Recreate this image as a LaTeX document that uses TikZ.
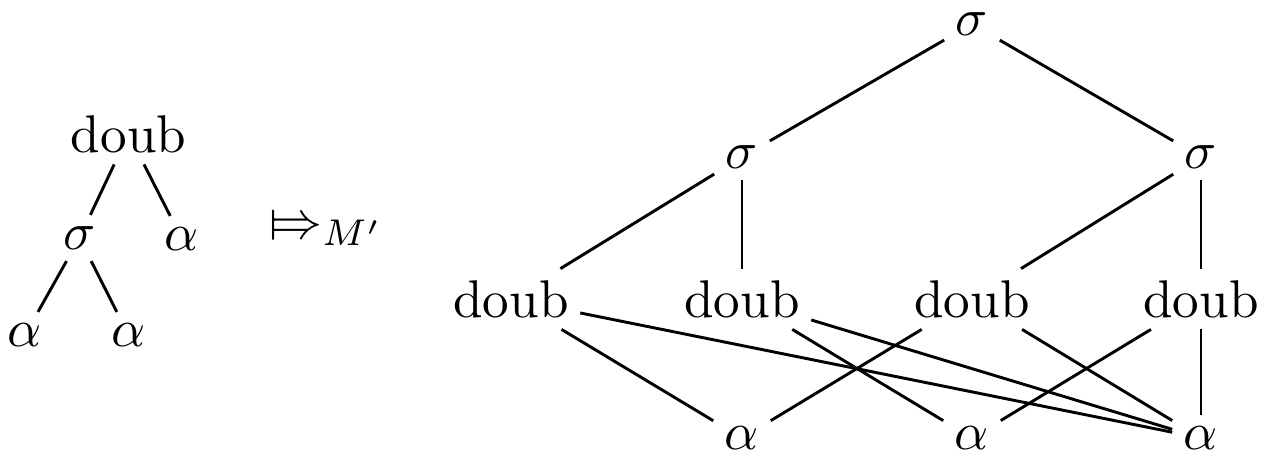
\documentclass[tikz,border=0pt]{standalone}
\usepackage{stmaryrd}
\tikzset{
  lbl/.style={inner sep=2.2pt, outer sep=0pt},
  conn/.style={line width=0.55pt}
}
\begin{document}
\begin{tikzpicture}[x=0.18831pt, y=-0.18831pt]
\useasboundingbox (0,0) rectangle (1266,456);
% left tree
\node[lbl] (ld) at (128.5,134) {doub};
\node[lbl] (ls) at (79.5,238) {$\sigma$};
\node[lbl] (la) at (182,239) {$\alpha$};
\node[lbl] (la1) at (25,335) {$\alpha$};
\node[lbl] (la2) at (128.5,335) {$\alpha$};
\draw[conn] (ld) -- (ls);
\draw[conn] (ld) -- (la);
\draw[conn] (ls) -- (la1);
\draw[conn] (ls) -- (la2);
% arrow
\node[inner sep=0pt, anchor=base west] (arr) at (268,238) {$\Mapsto_{M'}$};
% right graph
\node[lbl] (t) at (972,24) {$\sigma$};
\node[lbl] (s1) at (742,157) {$\sigma$};
\node[lbl] (s2) at (1201,157) {$\sigma$};
\node[lbl] (d1) at (511,299) {doub};
\node[lbl] (d2) at (742,299) {doub};
\node[lbl] (d3) at (972,299) {doub};
\node[lbl] (d4) at (1201,299) {doub};
\node[lbl] (a1) at (742,438) {$\alpha$};
\node[lbl] (a2) at (972,438) {$\alpha$};
\node[lbl] (a3) at (1201,438) {$\alpha$};
\draw[conn] (t) -- (s1);
\draw[conn] (t) -- (s2);
\draw[conn] (s1) -- (d1);
\draw[conn] (s1) -- (d2);
\draw[conn] (s2) -- (d3);
\draw[conn] (s2) -- (d4);
\draw[conn] (d1) -- (a1);
\draw[conn] (d1) -- (a3);
\draw[conn] (d2) -- (a2);
\draw[conn] (d2) -- (a3);
\draw[conn] (d3) -- (a1);
\draw[conn] (d3) -- (a3);
\draw[conn] (d4) -- (a2);
\draw[conn] (d4) -- (a3);
\end{tikzpicture}
\end{document}
